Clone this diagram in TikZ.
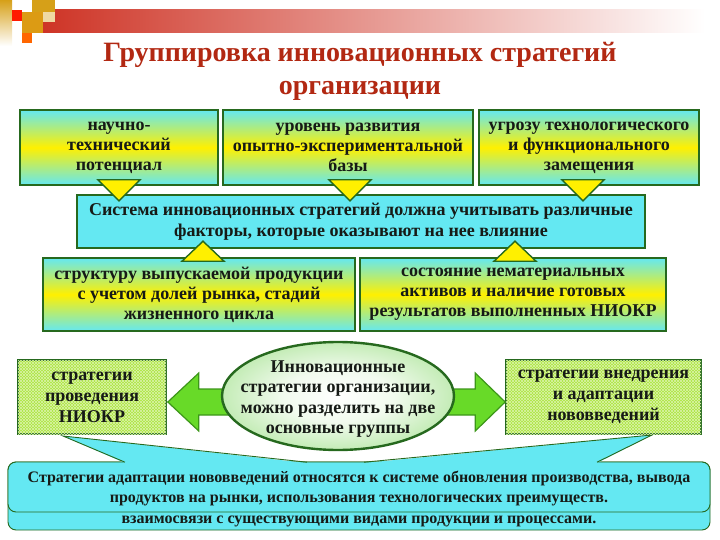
\documentclass[tikz,border=0pt]{standalone}
\usepackage{fontspec}
\setmainfont{Liberation Serif}
\usetikzlibrary{shapes.geometric,patterns,calc}
\definecolor{boxline}{RGB}{38,105,30}
\definecolor{skyfill}{RGB}{100,232,242}
\definecolor{sunfill}{RGB}{255,240,0}
\definecolor{leaffill}{RGB}{172,228,62}
\definecolor{arrowfill}{RGB}{104,218,40}
\definecolor{arrowline}{RGB}{60,150,25}
\definecolor{ovalfill}{RGB}{84,200,44}
\definecolor{titlered}{RGB}{178,40,18}
\definecolor{barred}{RGB}{206,52,38}
\definecolor{gold}{RGB}{214,160,24}
\definecolor{ink}{RGB}{22,26,22}
\pgfdeclareradialshading{ovalshade}{\pgfpoint{0bp}{0bp}}{color(0bp)=(white); color(12bp)=(white!92!ovalfill); color(30bp)=(white!55!ovalfill); color(44bp)=(ovalfill); color(50bp)=(ovalfill)}

\begin{document}
\begin{tikzpicture}[x=1pt,y=-1pt]
    \useasboundingbox (0,0) rectangle (720,540);
    % Define styles for boxes
    \tikzstyle{factor} = [draw=boxline, line width=1.6pt, rectangle, top color=skyfill, bottom color=skyfill, middle color=sunfill, align=center, text=ink, inner sep=0pt, font=\fontsize{18}{20}\selectfont\bfseries]
    \tikzstyle{factorplain} = [factor, fill=skyfill, top color=skyfill, bottom color=skyfill, middle color=skyfill, font=\fontsize{18}{21}\selectfont\bfseries]
    \tikzstyle{group} = [draw=boxline, line width=1.6pt, rectangle, fill=leaffill, align=center, text=ink, inner sep=0pt, font=\fontsize{18}{21}\selectfont\bfseries, postaction={pattern=north east lines, pattern color=leaffill!45!white}, postaction={pattern=north west lines, pattern color=leaffill!45!white}]
    \tikzstyle{tri} = [fill=sunfill, draw=boxline, line width=1.4pt]
    \tikzstyle{blockarrow} = [fill=arrowfill, draw=arrowline, line width=1.2pt]
    \tikzstyle{note} = [draw=boxline, line width=0.9pt, rectangle, fill=skyfill, rounded corners=8pt, minimum width=702pt]
    \tikzstyle{notetext} = [align=center, text=ink, inner sep=0pt, font=\fontsize{16}{20}\selectfont\bfseries]

    % Header decoration
    \shade[left color=barred, right color=white] (43,10) rectangle (705,33);
    \shade[top color=gold, bottom color=white] (0,0) rectangle (12,46);
    \fill[gold] (32,0) rectangle (55,12);
    \fill[gold!85!orange] (22,12) rectangle (43,33);
    \fill[gold!40!white] (43,12) rectangle (55,22);
    \fill[orange!80!red] (22,33) rectangle (32,43);
    \fill[red!80!orange] (12,10) rectangle (22,21);

    \node (title)[align=center, text=titlered, font=\fontsize{28}{33}\selectfont\bfseries] at (360,71)
      {Группировка инновационных стратегий\\организации};

    % Factors
    \node (tech)[factor, minimum width=198pt, minimum height=75pt] at (119,147.5)
      {научно-\\технический\\потенциал};
    \node (base)[factor, minimum width=250pt, minimum height=75pt] at (348,147.5)
      {уровень развития\\опытно-экспериментальной\\базы};
    \node (threat)[factor, minimum width=220pt, minimum height=75pt] at (589,147.5)
      {угрозу технологического\\и функционального\\замещения};
    \node (sys)[factorplain, minimum width=568pt, minimum height=53pt] at (361,221.5)
      {Система инновационных стратегий должна учитывать различные\\факторы, которые оказывают на нее влияние};
    \node (struct)[factor, minimum width=312pt, minimum height=73pt] at (199,294.5)
      {структуру выпускаемой продукции\\с учетом долей рынка, стадий\\жизненного цикла};
    \node (assets)[factor, minimum width=306pt, minimum height=73pt] at (513,294.5)
      {состояние нематериальных\\активов и наличие готовых\\результатов выполненных НИОКР};

    \draw[tri] ($(tech.south)+(-21,-6)$) -- ++(42,0) -- ++(-21,21) -- cycle;
    \draw[tri] ($(base.south)+(-19,-6)$) -- ++(42,0) -- ++(-21,21) -- cycle;
    \draw[tri] ($(threat.south)+(-27,-6)$) -- ++(42,0) -- ++(-21,21) -- cycle;
    \draw[tri] ($(struct.north)+(-17,4)$) -- ++(42,0) -- ++(-21,-20) -- cycle;
    \draw[tri] ($(assets.north)+(-19,4)$) -- ++(42,0) -- ++(-21,-20) -- cycle;

    % Bottom callout
    \node (backnote)[note, minimum height=68pt] at (359,496) {};
    \node (frontnote)[note, minimum height=50pt] at (359,487) {};
    \coordinate (lefttip) at (63,436);
    \coordinate (righttip) at (652,435);
    \fill[skyfill] (lefttip) -- (125,463) -- (307,463) -- cycle;
    \fill[skyfill] (righttip) -- (597,463) -- (364,463) -- cycle;
    \draw[boxline, line width=0.9pt] (125,462.2) -- (lefttip) -- (307,462.2);
    \draw[boxline, line width=0.9pt] (364,462.2) -- (righttip) -- (597,462.2);
    \node (notemain)[notetext] at (359,488)
      {Стратегии адаптации нововведений относятся к системе обновления производства, вывода\\продуктов на рынки, использования технологических преимуществ.};
    \node (notelast)[notetext] at (359,521) {взаимосвязи с существующими видами продукции и процессами.};

    % Two groups
    \node (npr)[group, minimum width=148pt, minimum height=74pt] at (92,397)
      {стратегии\\проведения\\НИОКР};
    \node (adapt)[group, minimum width=195pt, minimum height=74pt] at (603.5,397)
      {стратегии внедрения\\и адаптации\\нововведений};

    \draw[blockarrow] ($(npr.east)+(1,5)$) -- ++(31,-29) -- ++(0,16) -- ++(40,0) -- ++(0,26)
      -- ++(-40,0) -- ++(0,16) -- cycle;
    \draw[blockarrow] ($(adapt.west)+(0,5)$) -- ++(-30,-29) -- ++(0,16) -- ++(-40,0) -- ++(0,26)
      -- ++(40,0) -- ++(0,16) -- cycle;

    \node (core)[ellipse, draw=boxline, line width=2.4pt, shading=ovalshade,
      minimum width=232pt, minimum height=108pt, inner sep=0pt] at (338,396) {};
    \node (coretext)[align=center, text=ink, inner sep=0pt, font=\fontsize{18}{20.5}\selectfont\bfseries]
      at ($(core.center)+(0,3)$)
      {Инновационные\\стратегии организации,\\можно разделить на две\\основные группы};
\end{tikzpicture}
\end{document}
